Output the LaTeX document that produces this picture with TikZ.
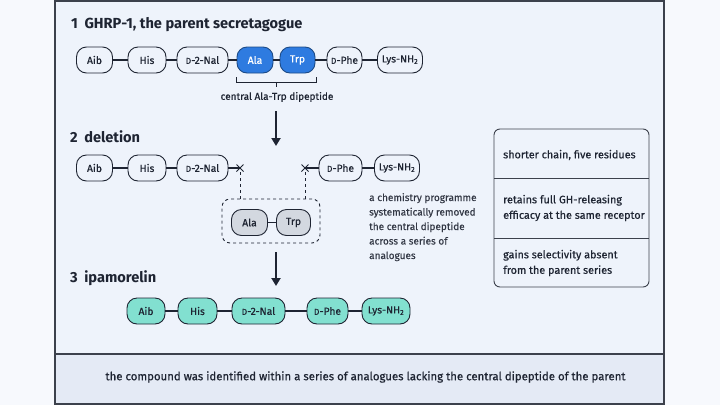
\documentclass[tikz,border=0pt]{standalone}
\usepackage{fontspec}
\setmainfont{Fira Sans}
\newfontfamily\medfont{Fira Sans}[FakeBold=0.6]
\newfontfamily\lightmed{Fira Sans}[FakeBold=0.3]
\newcommand\headfont{\bfseries}
\usetikzlibrary{arrows.meta,calc}
\definecolor{bgout}{HTML}{F7F9FD}
\definecolor{bgmain}{HTML}{EEF3FB}
\definecolor{bgfoot}{HTML}{E4EAF5}
\definecolor{ink}{HTML}{1E2432}
\definecolor{soft}{HTML}{333845}
\definecolor{frame}{HTML}{3C414C}
\definecolor{blu}{HTML}{2E7BE0}
\definecolor{teal}{HTML}{82E0D0}
\definecolor{gry}{HTML}{D3D8E0}
\newcommand\dsc{{\fontsize{8.5}{10}\selectfont D}}
\begin{document}
\begin{tikzpicture}[x=1pt,y=-1pt,
  res/.style={draw=ink, line width=0.9pt, rounded corners=10pt, minimum height=26pt, minimum width=36pt, inner sep=2pt, font=\medfont\fontsize{10.3}{12}\selectfont, text=ink, fill=bgmain},
  hot/.style={res, fill=blu, draw=blu!60!black, text=white},
  tl/.style={res, fill=teal},
  gy/.style={res, fill=gry},
  bond/.style={draw=ink, line width=1.1pt},
  head/.style={anchor=west, font=\headfont\fontsize{14.6}{18}\selectfont, text=ink, inner sep=0pt},
  bigarrow/.style={draw=ink, line width=2pt, -{Triangle[length=8pt,width=9pt]}},
  note/.style={font=\lightmed\fontsize{10}{14.5}\selectfont, text=soft, align=left, inner sep=0pt},
  boxtxt/.style={font=\medfont\fontsize{10.8}{15.5}\selectfont, text=ink, align=left, inner sep=0pt, anchor=west}
]
\useasboundingbox (0,0) rectangle (720,405);
\fill[bgout] (0,0) rectangle (720,405);
\fill[bgmain] (55,1) rectangle (664,354);
\fill[bgfoot] (55,354) rectangle (664,404);
\draw[frame, line width=1.2pt] (55,404) -- (55,1) -- (664,1) -- (664,404) -- cycle;
\draw[frame, line width=1.2pt] (55,354) -- (664,354);

% headings
\node[head] (h1) at (71,25) {1\hspace{0.45em}GHRP-1, the parent secretagogue};
\node[head] (h2) at (70,137) {2\hspace{0.45em}deletion};
\node[head] (h3) at (70,278) {3\hspace{0.45em}ipamorelin};

% row 1
\node[res] (a1) at (94.5,60) {Aib};
\node[res, minimum width=38pt] (b1) at (147,60) {His};
\node[res, minimum width=51pt] (c1) at (202.5,60) {\dsc-2-Nal};
\node[hot] (d1) at (255,60) {Ala};
\node[hot, minimum width=35pt] (e1) at (297.5,60) {Trp};
\node[res, minimum width=35pt] (f1) at (344.5,60) {\dsc-Phe};
\node[res, minimum width=45pt] (g1) at (400,60) {Lys-NH\textsubscript{2}};
\draw[bond] (a1) -- (b1) (b1) -- (c1) (c1) -- (d1) (d1) -- (e1) (e1) -- (f1) (f1) -- (g1);

% bracket
\draw[ink, line width=0.9pt] (236,77) -- (236,82) -- (316,82) -- (316,77);
\draw[ink, line width=0.9pt] (276,82) coordinate (bm) -- (276,87);
\node[font=\medfont\fontsize{10}{12}\selectfont, text=ink] (bl) at (277,97) {central Ala-Trp dipeptide};

% arrow 1
\coordinate (ar1s) at (276,111);
\coordinate (ar1e) at (276,146);
\draw[bigarrow] (ar1s) -- (ar1e);

% row 2
\node[res] (a2) at (94.5,168) {Aib};
\node[res, minimum width=38pt] (b2) at (147,168) {His};
\node[res, minimum width=51pt] (c2) at (202.5,168) {\dsc-2-Nal};
\coordinate (x1) at (240,168);
\coordinate (x2) at (305,168);
\node[res, minimum width=43pt] (f2) at (340.5,168) {\dsc-Phe};
\node[res, minimum width=45pt] (g2) at (397,168) {Lys-NH\textsubscript{2}};
\draw[bond] (a2) -- (b2) (b2) -- (c2) (c2) -- (x1) (x2) -- (f2) (f2) -- (g2);
\draw[ink, line width=1pt] ($(x1)+(-3.5,-3.5)$) -- ($(x1)+(3.5,3.5)$) ($(x1)+(-3.5,3.5)$) -- ($(x1)+(3.5,-3.5)$);
\draw[ink, line width=1pt] ($(x2)+(-3.5,-3.5)$) -- ($(x2)+(3.5,3.5)$) ($(x2)+(-3.5,3.5)$) -- ($(x2)+(3.5,-3.5)$);

% deleted dipeptide box
\node[draw=ink, dashed, line width=0.9pt, rounded corners=8pt, minimum width=98pt, minimum height=44pt] (dbox) at (271,221) {};
\draw[ink, dashed, line width=0.9pt] (x1) ++(0,4) -- (x1 |- dbox.north);
\draw[ink, dashed, line width=0.9pt] (x2) ++(0,4) -- (x2 |- dbox.north);
\node[gy] (d2) at (249.5,222.5) {Ala};
\node[gy, minimum width=34pt] (e2) at (293.5,222.5) {Trp};
\draw[bond] (d2) -- (e2);

\node[note, anchor=north west] (nt) at (369,193) {a chemistry programme\\systematically removed\\the central dipeptide\\across a series of\\analogues};

% arrow 2
\coordinate (ar2s) at (276,252);
\coordinate (ar2e) at (276,286);
\draw[bigarrow] (ar2s) -- (ar2e);

% row 3
\node[tl, minimum width=38pt] (a3) at (146,311) {Aib};
\node[tl, minimum width=39pt] (b3) at (197.5,311) {His};
\node[tl, minimum width=53pt] (c3) at (258.5,311) {\dsc-2-Nal};
\node[tl, minimum width=41pt] (f3) at (327.5,311) {\dsc-Phe};
\node[tl, minimum width=48pt] (g3) at (386,311) {Lys-NH\textsubscript{2}};
\draw[bond] (a3) -- (b3) (b3) -- (c3) (c3) -- (f3) (f3) -- (g3);

% right box
\node[draw=frame, line width=0.9pt, rounded corners=6pt, fill=bgmain, minimum width=155pt, minimum height=158pt] (rb) at (571.5,208) {};
\draw[frame, line width=0.9pt] (494,178) -- (649,178) (494,238) -- (649,238);
\node[boxtxt] (r1) at (503,155) {shorter chain, five residues};
\node[boxtxt] (r2) at (503,208) {retains full GH-releasing\\efficacy at the same receptor};
\node[boxtxt] (r3) at (503,263) {gains selectivity absent\\from the parent series};

% footer
\node[font=\medfont\fontsize{11.4}{13}\selectfont, text=ink] (ft) at (365.5,377) {the compound was identified within a series of analogues lacking the central dipeptide of the parent};
\end{tikzpicture}
\end{document}
